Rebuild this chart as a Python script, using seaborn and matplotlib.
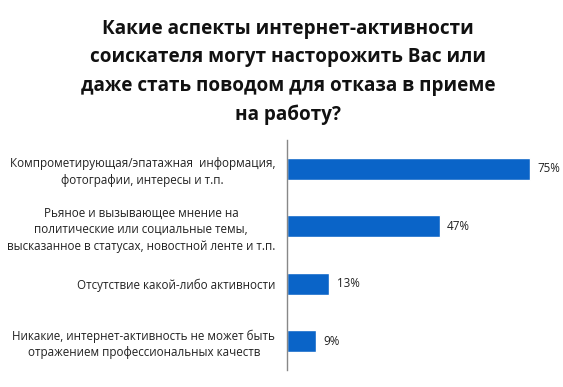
import pandas as pd
import seaborn as sns
import matplotlib.pyplot as plt

categories = [
    "Компрометирующая/эпатажная  информация,\nфотографии, интересы и т.п.",
    "Рьяное и вызывающее мнение на\nполитические или социальные темы,\nвысказанное в статусах, новостной ленте и т.п.",
    "Отсутствие какой-либо активности",
    "Никакие, интернет-активность не может быть\nотражением профессиональных качеств",
]
values = [75, 47, 13, 9]
title = ("Какие аспекты интернет-активности\nсоискателя могут насторожить Вас или\n"
         "даже стать поводом для отказа в приеме\nна работу?")

df = pd.DataFrame({"cat": categories, "val": values})

sns.set_style("white")
plt.rcParams["font.family"] = ["Open Sans", "DejaVu Sans"]

fig = plt.figure(figsize=(5.63, 3.87), dpi=100)
ax = fig.add_axes([0.5098, 0.044, 0.49, 0.594])
sns.barplot(data=df, x="val", y="cat", color="#0a64c8", width=0.38, ax=ax, saturation=1)

for i, v in enumerate(values):
    ax.text(v + 2.3, i, f"{v}%", va="center", ha="left", fontsize=8.4, color="#222222")

ax.set_xlim(0, 85)
ax.set_xlabel("")
ax.set_ylabel("")
ax.set_xticks([])
ax.tick_params(axis="y", length=0, pad=8.5)
for lbl in ax.get_yticklabels():
    lbl.set_multialignment("center")
    lbl.set_fontsize(8.4)
    lbl.set_linespacing(1.35)
    lbl.set_color("#222222")
for s in ["top", "right", "bottom"]:
    ax.spines[s].set_visible(False)
ax.spines["left"].set_color("#888888")
ax.spines["left"].set_linewidth(1)

fig.text(0.512, 0.952, title, ha="center", va="top", fontsize=13.6, fontweight="bold",
         linespacing=1.58, color="#111111")

fig.savefig("out.png", dpi=100)
